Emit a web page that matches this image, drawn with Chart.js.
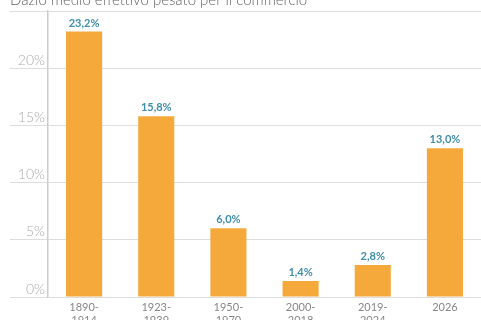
<!DOCTYPE html>
<html>
<head>
<meta charset="utf-8">
<script src="https://cdn.jsdelivr.net/npm/chart.js@4"></script>
<style>
  html, body { margin: 0; padding: 0; background: #fff; }
  #wrap { width: 481px; height: 320px; position: relative; }
</style>
</head>
<body>
<div id="wrap"><canvas id="dazi"></canvas></div>
<script>
// Dazio medio effettivo per periodo
var periodi = [['1890-', '1914'], ['1923-', '1939'], ['1950-', '1970'], ['2000-', '2018'], ['2019-', '2024'], ['2026']];
var dazio = [23.2, 15.8, 6.0, 1.4, 2.8, 13.0];
var tickY = [0, 5, 10, 15, 20, 25];

var titolo = 'Dazio medio effettivo pesato per il commercio';

// titolo in alto e valori sopra le barre
var etichette = {
    id: 'etichette',
    afterDatasetsDraw: function (chart) {
        var ctx = chart.ctx;
        ctx.save();
        ctx.fillStyle = '#666';
        ctx.font = '300 15px Lato, "Open Sans", sans-serif';
        ctx.textAlign = 'left';
        ctx.textBaseline = 'alphabetic';
        ctx.fillText(titolo, 10, 5);

        ctx.fillStyle = '#3f8eab';
        ctx.font = 'bold 11px Lato, "Open Sans", sans-serif';
        ctx.textAlign = 'center';
        ctx.textBaseline = 'bottom';
        chart.getDatasetMeta(0).data.forEach(function (bar, i) {
            ctx.fillText(dazio[i].toFixed(1).replace('.', ',') + '%', bar.x, bar.y - 3);
        });
        ctx.restore();
    }
};

new Chart(document.getElementById('dazi').getContext('2d'), {
    type: 'bar',
    data: {
        labels: periodi,
        datasets: [{
            data: dazio,
            backgroundColor: '#f5a93a',
            barPercentage: 0.5,
            categoryPercentage: 1
        }]
    },
    options: {
        responsive: true,
        maintainAspectRatio: false,
        animation: false,
        layout: { padding: { top: 11, right: 0, left: 0, bottom: 0 } },
        plugins: {
            legend: { display: false },
            tooltip: { enabled: false }
        },
        scales: {
            x: {
                grid: { display: false },
                border: { display: false },
                ticks: {
                    color: '#888',
                    font: { family: 'Lato, "Open Sans", sans-serif', size: 11 },
                    padding: -4,
                    maxRotation: 0
                },
                afterFit: function (s) { s.height = 23; }
            },
            y: {
                min: 0,
                max: 25,
                afterBuildTicks: function (s) {
                    s.ticks = tickY.map(function (v) { return { value: v }; });
                },
                grid: { color: '#ddd', lineWidth: 1, tickLength: 38 },
                border: { color: '#ccc', width: 1.5 },
                ticks: {
                    color: '#aaa',
                    padding: -35,
                    labelOffset: -8,
                    font: { family: 'Lato, "Open Sans", sans-serif', size: 14, weight: '300' },
                    callback: function (v) { return v === 25 ? '' : v + '%'; }
                },
                afterFit: function (s) { s.width = 48; }
            }
        }
    },
    plugins: [etichette]
});
</script>
</body>
</html>
